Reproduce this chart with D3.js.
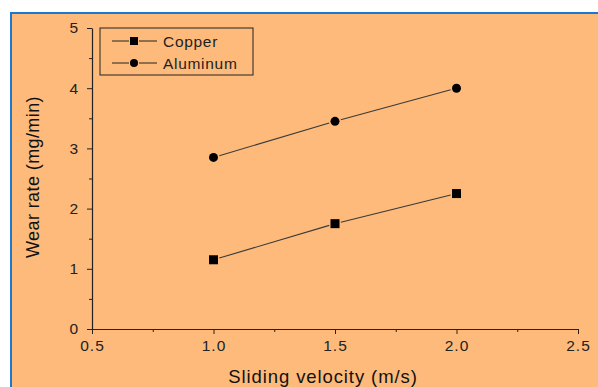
<!DOCTYPE html>
<html>
<head>
<meta charset="utf-8">
<script src="https://cdn.jsdelivr.net/npm/d3@7"></script>
<style>
  html, body { margin: 0; padding: 0; background: #fff; }
  svg { display: block; font-family: "Liberation Sans", Arial, sans-serif; }
</style>
</head>
<body>
<svg id="chart" width="598" height="387"></svg>
<script>
// data
var velocity = [1.0, 1.5, 2.0];
var copper = [1.15, 1.75, 2.25];
var aluminum = [2.85, 3.45, 4.0];
var xTicks = [0.5, 1.0, 1.5, 2.0, 2.5];
var yTicks = [0, 1, 2, 3, 4, 5];

var svg = d3.select("#chart");

// panel background + blue frame
svg.append("rect")
    .attr("x", 11).attr("y", 13)
    .attr("width", 600).attr("height", 380)
    .attr("fill", "#fdba7b")
    .attr("stroke", "#1a78d0")
    .attr("stroke-width", 2);

var x = d3.scaleLinear().domain([0.5, 2.5]).range([92, 578]);
var y = d3.scaleLinear().domain([0, 5]).range([329, 28]);

var g = svg.append("g");

// minor ticks
var xMinor = d3.axisBottom(x).tickValues(d3.range(0.75, 2.5, 0.5)).tickSize(3).tickFormat("");
var yMinor = d3.axisLeft(y).tickValues(d3.range(0.5, 5, 1)).tickSize(3).tickFormat("");

var xAxis = d3.axisBottom(x).tickValues(xTicks).tickSize(5).tickSizeOuter(0)
    .tickFormat(d3.format(".1f"));
var yAxis = d3.axisLeft(y).tickValues(yTicks).tickSize(5).tickSizeOuter(0)
    .tickFormat(d3.format("d"));

g.append("g").attr("transform", "translate(0,329)").call(xMinor).select(".domain").remove();
g.append("g").attr("transform", "translate(92,0)").call(yMinor).select(".domain").remove();

var gx = g.append("g").attr("transform", "translate(0,329)").call(xAxis);
var gy = g.append("g").attr("transform", "translate(92,0)").call(yAxis);

g.selectAll(".tick line").attr("stroke", "#222");
g.selectAll(".domain").attr("stroke", "#222").attr("stroke-width", 1.2);

gx.selectAll("text")
    .attr("font-size", 15.5).attr("fill", "#222")
    .attr("font-family", "Liberation Sans, Arial, sans-serif")
    .attr("letter-spacing", 1)
    .attr("dy", "0.9em");
gy.selectAll("text")
    .attr("font-size", 15.5).attr("fill", "#222")
    .attr("font-family", "Liberation Sans, Arial, sans-serif")
    .attr("x", -14);

// axis titles
svg.append("text")
    .attr("x", 323).attr("y", 383)
    .attr("text-anchor", "middle")
    .attr("font-size", 18.5)
    .attr("letter-spacing", 0.9)
    .attr("fill", "#111")
    .text("Sliding velocity (m/s)");

svg.append("text")
    .attr("transform", "translate(39,177) rotate(-90)")
    .attr("text-anchor", "middle")
    .attr("font-size", 18)
    .attr("letter-spacing", 0.4)
    .attr("fill", "#111")
    .text("Wear rate (mg/min)");

// series lines, drawn with a small gap around each marker
var series = [
  { name: "Copper", values: copper, shape: "square" },
  { name: "Aluminum", values: aluminum, shape: "circle" }
];

var gap = 6;
series.forEach(function(s) {
  var pts = velocity.map(function(v, i) { return [x(v), y(s.values[i])]; });
  for (var i = 0; i < pts.length - 1; i++) {
    var a = pts[i], b = pts[i + 1];
    var dx = b[0] - a[0], dy = b[1] - a[1];
    var len = Math.sqrt(dx * dx + dy * dy);
    var ux = dx / len, uy = dy / len;
    g.append("line")
        .attr("x1", a[0] + ux * gap).attr("y1", a[1] + uy * gap)
        .attr("x2", b[0] - ux * gap).attr("y2", b[1] - uy * gap)
        .attr("stroke", "#3a3a3a").attr("stroke-width", 1.1);
  }
  pts.forEach(function(p) {
    if (s.shape == "square") {
      g.append("rect")
          .attr("x", p[0] - 4.5).attr("y", p[1] - 4.5)
          .attr("width", 9).attr("height", 9)
          .attr("fill", "#000");
    } else {
      g.append("circle")
          .attr("cx", p[0]).attr("cy", p[1]).attr("r", 4.5)
          .attr("fill", "#000");
    }
  });
});

// legend
var legend = svg.append("g");
legend.append("rect")
    .attr("x", 100).attr("y", 28)
    .attr("width", 153).attr("height", 47)
    .attr("fill", "none").attr("stroke", "#222").attr("stroke-width", 1);

series.forEach(function(s, i) {
  var ly = 41 + i * 22;
  legend.append("line")
      .attr("x1", 112).attr("x2", 129).attr("y1", ly).attr("y2", ly)
      .attr("stroke", "#222");
  legend.append("line")
      .attr("x1", 139).attr("x2", 157).attr("y1", ly).attr("y2", ly)
      .attr("stroke", "#222");
  if (s.shape == "square") {
    legend.append("rect").attr("x", 130).attr("y", ly - 4).attr("width", 8).attr("height", 8).attr("fill", "#000");
  } else {
    legend.append("circle").attr("cx", 134).attr("cy", ly).attr("r", 4).attr("fill", "#000");
  }
  legend.append("text")
      .attr("x", 163).attr("y", ly + 5.5)
      .attr("font-size", 15.5)
      .attr("letter-spacing", 0.7)
      .attr("fill", "#222")
      .text(s.name);
});
</script>
</body>
</html>
